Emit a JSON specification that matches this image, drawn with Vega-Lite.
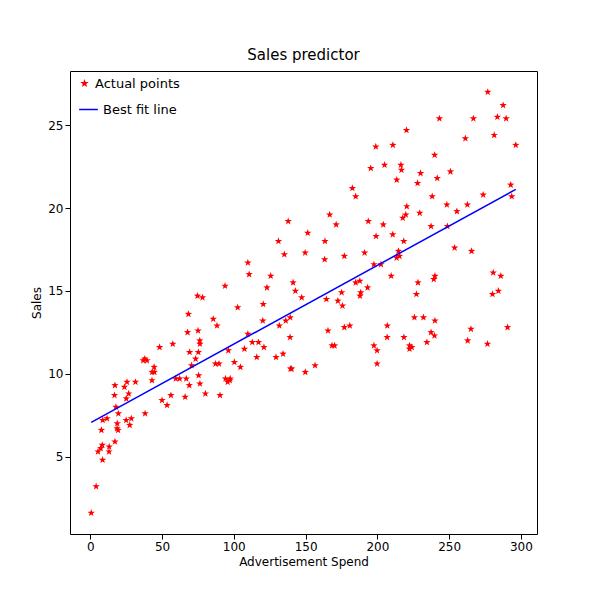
{
  "$schema": "https://vega.github.io/schema/vega-lite/v6.json",
  "width": 467,
  "height": 463,
  "padding": {"left": 30, "top": 48, "right": 5, "bottom": 5},
  "title": {"text": "Sales predictor", "font": "DejaVu Sans", "fontSize": 15, "fontWeight": "normal", "color": "black", "offset": 8},
  "config": {
    "font": "DejaVu Sans",
    "view": {"stroke": "black"},
    "axis": {"grid": false, "domain": false, "labelFont": "DejaVu Sans", "titleFont": "DejaVu Sans", "labelFontSize": 12, "titleFontSize": 12, "titleFontWeight": "normal", "labelColor": "black", "titleColor": "black", "tickColor": "black"},
    "legend": {"labelFontSize": 13, "labelFont": "DejaVu Sans", "labelColor": "black"}
  },
  "datasets": {
    "pts": [
      {"t":230.1,"s":22.1},{"t":44.5,"s":10.4},{"t":17.2,"s":9.3},{"t":151.5,"s":18.5},{"t":180.8,"s":12.9},
      {"t":8.7,"s":7.2},{"t":57.5,"s":11.8},{"t":120.2,"s":13.2},{"t":8.6,"s":4.8},{"t":199.8,"s":10.6},
      {"t":66.1,"s":8.6},{"t":214.7,"s":17.4},{"t":23.8,"s":9.2},{"t":97.5,"s":9.7},{"t":204.1,"s":19},
      {"t":195.4,"s":22.4},{"t":67.8,"s":12.5},{"t":281.4,"s":24.4},{"t":69.2,"s":11.3},{"t":147.3,"s":14.6},
      {"t":218.4,"s":18},{"t":237.4,"s":12.5},{"t":13.2,"s":5.6},{"t":228.3,"s":15.5},{"t":62.3,"s":9.7},
      {"t":262.9,"s":12},{"t":142.9,"s":15},{"t":240.1,"s":15.9},{"t":248.8,"s":18.9},{"t":70.6,"s":10.5},
      {"t":292.9,"s":21.4},{"t":112.9,"s":11.9},{"t":97.2,"s":9.6},{"t":265.6,"s":17.4},{"t":95.7,"s":9.5},
      {"t":290.7,"s":12.8},{"t":266.9,"s":25.4},{"t":74.7,"s":14.7},{"t":43.1,"s":10.1},{"t":228,"s":21.5},
      {"t":202.5,"s":16.6},{"t":177,"s":17.1},{"t":293.6,"s":20.7},{"t":206.9,"s":12.9},{"t":25.1,"s":8.5},
      {"t":175.1,"s":14.9},{"t":89.7,"s":10.6},{"t":239.9,"s":23.2},{"t":227.2,"s":14.8},{"t":66.9,"s":9.7},
      {"t":199.8,"s":11.4},{"t":100.4,"s":10.7},{"t":216.4,"s":22.6},{"t":182.6,"s":21.2},{"t":262.7,"s":20.2},
      {"t":198.9,"s":23.7},{"t":7.3,"s":5.5},{"t":136.2,"s":13.2},{"t":210.8,"s":23.8},{"t":210.7,"s":18.4},
      {"t":53.5,"s":8.1},{"t":261.3,"s":24.2},{"t":239.3,"s":15.7},{"t":102.7,"s":14},{"t":131.1,"s":18},
      {"t":69,"s":9.3},{"t":31.5,"s":9.5},{"t":139.3,"s":13.4},{"t":237.4,"s":18.9},{"t":216.8,"s":22.3},
      {"t":199.1,"s":18.3},{"t":109.8,"s":12.4},{"t":26.8,"s":8.8},{"t":129.4,"s":11},{"t":213.4,"s":17},
      {"t":16.9,"s":8.7},{"t":27.5,"s":6.9},{"t":120.5,"s":14.2},{"t":5.4,"s":5.3},{"t":116,"s":11},
      {"t":76.4,"s":11.8},{"t":239.8,"s":12.3},{"t":75.3,"s":11.3},{"t":68.4,"s":13.6},{"t":213.5,"s":21.7},
      {"t":193.2,"s":15.2},{"t":76.3,"s":12},{"t":110.7,"s":16},{"t":88.3,"s":12.9},{"t":109.8,"s":16.7},
      {"t":134.3,"s":11.2},{"t":28.6,"s":7.3},{"t":217.7,"s":19.4},{"t":250.9,"s":22.2},{"t":107.4,"s":11.5},
      {"t":163.3,"s":16.9},{"t":197.6,"s":11.7},{"t":184.9,"s":15.5},{"t":289.7,"s":25.4},{"t":135.2,"s":17.2},
      {"t":222.4,"s":11.7},{"t":296.4,"s":23.8},{"t":280.2,"s":14.8},{"t":187.9,"s":14.7},{"t":238.2,"s":20.7},
      {"t":137.9,"s":19.2},{"t":25,"s":7.2},{"t":90.4,"s":8.7},{"t":13.1,"s":5.3},{"t":255.4,"s":19.8},
      {"t":225.8,"s":13.4},{"t":241.7,"s":21.8},{"t":175.7,"s":14.1},{"t":209.6,"s":15.9},{"t":78.2,"s":14.6},
      {"t":75.1,"s":12.6},{"t":139.2,"s":12.2},{"t":76.4,"s":9.4},{"t":125.7,"s":15.9},{"t":19.4,"s":6.6},
      {"t":141.3,"s":15.5},{"t":18.8,"s":7},{"t":224,"s":11.6},{"t":123.1,"s":15.2},{"t":229.5,"s":19.7},
      {"t":87.2,"s":10.6},{"t":7.8,"s":6.6},{"t":80.2,"s":8.8},{"t":220.3,"s":24.7},{"t":59.6,"s":9.7},
      {"t":0.7,"s":1.6},{"t":265.2,"s":12.7},{"t":8.4,"s":5.7},{"t":219.8,"s":19.6},{"t":36.9,"s":10.8},
      {"t":48.3,"s":11.6},{"t":25.6,"s":9.5},{"t":273.7,"s":20.8},{"t":43,"s":9.6},{"t":184.9,"s":20.7},
      {"t":73.4,"s":10.9},{"t":193.7,"s":19.2},{"t":220.5,"s":20.1},{"t":104.6,"s":10.4},{"t":96.2,"s":11.4},
      {"t":140.3,"s":10.3},{"t":240.1,"s":13.2},{"t":243.2,"s":25.4},{"t":38,"s":10.9},{"t":44.7,"s":10.1},
      {"t":280.7,"s":16.1},{"t":121,"s":11.6},{"t":197.6,"s":16.6},{"t":171.3,"s":19},{"t":187.8,"s":15.6},
      {"t":4.1,"s":3.2},{"t":93.9,"s":15.3},{"t":149.8,"s":10.1},{"t":11.7,"s":7.3},{"t":131.7,"s":12.9},
      {"t":172.5,"s":14.4},{"t":85.7,"s":13.3},{"t":188.4,"s":14.9},{"t":163.5,"s":18},{"t":117.2,"s":11.9},
      {"t":234.5,"s":11.9},{"t":17.9,"s":8},{"t":206.8,"s":12.2},{"t":215.4,"s":17.1},{"t":284.3,"s":15},
      {"t":50,"s":8.4},{"t":164.5,"s":14.5},{"t":19.6,"s":7.6},{"t":168.4,"s":11.7},{"t":222.4,"s":11.5},
      {"t":276.9,"s":27},{"t":248.4,"s":20.2},{"t":170.2,"s":11.7},{"t":276.7,"s":11.8},{"t":165.6,"s":12.6},
      {"t":156.6,"s":10.5},{"t":218.5,"s":12.2},{"t":56.2,"s":8.7},{"t":287.6,"s":26.2},{"t":253.8,"s":17.6},
      {"t":205,"s":22.6},{"t":139.5,"s":10.3},{"t":191.1,"s":17.3},{"t":286,"s":15.9},{"t":18.7,"s":6.7},
      {"t":39.5,"s":10.8},{"t":75.5,"s":9.9},{"t":17.2,"s":5.9},{"t":166.8,"s":19.6},{"t":149.7,"s":17.3},
      {"t":38.2,"s":7.6},{"t":94.2,"s":9.7},{"t":177,"s":12.8},{"t":283.6,"s":25.5},{"t":232.1,"s":13.4}
    ],
    "fit": [{"t":0.7,"s":7.066,"k":"Best fit line"},{"t":296.4,"s":21.123,"k":"Best fit line"}]
  },
  "layer": [
    {
      "data": {"name": "pts"},
      "transform": [{"calculate": "' Actual points'", "as": "k"}],
      "mark": {"type": "point", "shape": "M0,-1L0.235,-0.324L0.951,-0.309L0.38,0.124L0.588,0.809L0,0.4L-0.588,0.809L-0.38,0.124L-0.951,-0.309L-0.235,-0.324Z", "filled": true, "size": 60, "opacity": 1},
      "encoding": {
        "x": {"field": "t", "type": "quantitative", "title": "Advertisement Spend", "scale": {"domain": [-14.1, 311.2], "nice": false, "zero": false}, "axis": {"values": [0,50,100,150,200,250,300]}},
        "y": {"field": "s", "type": "quantitative", "title": "Sales", "scale": {"domain": [0.33, 28.27], "nice": false, "zero": false}, "axis": {"values": [5,10,15,20,25]}},
        "color": {"field": "k", "type": "nominal", "scale": {"range": ["red"]},
          "legend": {"title": null, "orient": "none", "legendX": 8, "legendY": 6, "symbolType": "M0,-1L0.235,-0.324L0.951,-0.309L0.38,0.124L0.588,0.809L0,0.4L-0.588,0.809L-0.38,0.124L-0.951,-0.309L-0.235,-0.324Z", "symbolSize": 80, "symbolOpacity": 1}}
      }
    },
    {
      "data": {"name": "fit"},
      "mark": {"type": "line", "strokeWidth": 1.5},
      "encoding": {
        "x": {"field": "t", "type": "quantitative"},
        "y": {"field": "s", "type": "quantitative"},
        "stroke": {"field": "k", "type": "nominal", "scale": {"range": ["blue"]},
          "legend": {"title": null, "orient": "none", "legendX": 8, "legendY": 28, "symbolType": "stroke", "symbolSize": 350, "symbolStrokeWidth": 1.5}}
      }
    }
  ]
}
